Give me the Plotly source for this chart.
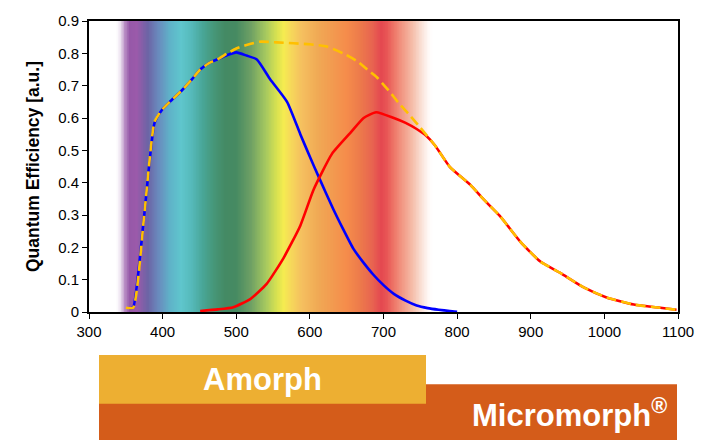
import numpy as np
import plotly.graph_objects as go

# ---- data ----
blue_nm = [355, 360, 375, 389, 399, 412, 426, 440, 451, 463, 474, 488, 500, 514, 528, 546, 569, 587, 600, 612,
           632, 645, 659, 672, 686, 700, 714, 730, 745, 760, 775, 790, 800]
blue_qe = [0.011, 0.014, 0.30, 0.585, 0.625, 0.655, 0.685, 0.72, 0.75, 0.77, 0.781, 0.795, 0.803, 0.793, 0.781,
           0.72, 0.65, 0.55, 0.48, 0.418, 0.317, 0.257, 0.196, 0.155, 0.116, 0.083, 0.056, 0.035, 0.02, 0.012,
           0.007, 0.003, 0.001]

red_nm = [451, 475, 496, 519, 541, 564, 587, 605, 630, 655, 673, 690, 714, 730, 745, 758, 770, 790, 818, 836,
          858, 886, 913, 940, 972, 1003, 1040, 1076, 1098]
red_qe = [0.003, 0.008, 0.015, 0.04, 0.086, 0.166, 0.267, 0.378, 0.489, 0.554, 0.60, 0.618, 0.60, 0.585, 0.566,
          0.545, 0.515, 0.449, 0.393, 0.348, 0.297, 0.217, 0.156, 0.121, 0.076, 0.045, 0.023, 0.013, 0.007]

sum_nm = [350, 360, 375, 389, 399, 412, 426, 440, 451, 463, 474, 488, 500, 514, 532, 555, 578, 600, 623, 645,
          664, 678, 691, 707, 723, 737, 750, 770, 790, 818, 836, 858, 886, 913, 940, 972, 1003, 1040, 1076, 1098]
sum_qe = [0.013, 0.013, 0.30, 0.588, 0.625, 0.655, 0.685, 0.72, 0.75, 0.77, 0.781, 0.80, 0.815, 0.826, 0.836,
          0.834, 0.831, 0.828, 0.821, 0.80, 0.776, 0.75, 0.726, 0.685, 0.64, 0.605, 0.57, 0.515, 0.449, 0.393,
          0.348, 0.297, 0.217, 0.156, 0.121, 0.076, 0.045, 0.023, 0.013, 0.007]

# visible spectrum backdrop (wavelength -> colour)
spec_nm = [335, 342, 348, 355, 365, 380, 395, 410, 425, 440, 455, 470, 485, 500, 520, 540, 555, 565, 575, 590,
           610, 630, 650, 670, 685, 697, 705, 715, 727, 740, 752, 762, 770]
spec_rgba = ["rgba(255,255,255,0)", "rgba(200,170,210,0.3)", "rgba(165,110,180,0.75)", "rgba(150,88,168,1)",
             "rgba(155,90,170,1)", "rgba(108,100,165,1)", "rgba(105,140,190,1)", "rgba(95,178,200,1)",
             "rgba(95,198,205,1)", "rgba(85,185,185,1)", "rgba(72,165,150,1)", "rgba(70,150,120,1)",
             "rgba(68,138,100,1)", "rgba(70,138,98,1)", "rgba(110,160,100,1)", "rgba(165,200,95,1)",
             "rgba(215,225,80,1)", "rgba(245,235,80,1)", "rgba(246,215,90,1)", "rgba(245,190,95,1)",
             "rgba(240,170,85,1)", "rgba(242,155,80,1)", "rgba(245,140,75,1)", "rgba(236,120,75,1)",
             "rgba(232,100,80,1)", "rgba(228,72,80,1)", "rgba(232,85,85,1)", "rgba(238,120,105,1)",
             "rgba(242,155,135,1)", "rgba(245,190,170,1)", "rgba(250,225,215,1)", "rgba(255,250,248,1)",
             "rgba(255,255,255,0)"]

x_ticks = [300, 400, 500, 600, 700, 800, 900, 1000, 1100]
y_ticks = [0, 0.1, 0.2, 0.3, 0.4, 0.5, 0.6, 0.7, 0.8, 0.9]
y_labels = ["0", "0.1", "0.2", "0.3", "0.4", "0.5", "0.6", "0.7", "0.8", "0.9"]

label_top = "Amorph"
label_bottom = "Micromorph<sup>®</sup>"

# ---- figure ----
lo, hi = spec_nm[0], spec_nm[-1]
edges = np.arange(lo, hi + 1, 1)
centers = (edges[:-1] + edges[1:]) / 2
cscale = [[(w - lo) / (hi - lo), c] for w, c in zip(spec_nm, spec_rgba)]

fig = go.Figure()
fig.add_trace(go.Heatmap(x=edges, y=[0, 0.9], z=[centers], colorscale=cscale, zmin=lo, zmax=hi,
                         showscale=False, hoverinfo="skip"))
fig.add_trace(go.Scatter(x=blue_nm, y=blue_qe, mode="lines", line=dict(color="#0000FF", width=2.6,
                         shape="spline", smoothing=0.5), hoverinfo="skip"))
fig.add_trace(go.Scatter(x=red_nm, y=red_qe, mode="lines", line=dict(color="#FF0000", width=2.6,
                         shape="spline", smoothing=0.5), hoverinfo="skip"))
fig.add_trace(go.Scatter(x=sum_nm, y=sum_qe, mode="lines", line=dict(color="#FFC000", width=2.6,
                         dash="10px,5px", shape="spline", smoothing=0.5), hoverinfo="skip"))

W, H = 707, 443
L, R, T, B = 89, 29, 14, 131
pw, ph = W - L - R, H - T - B


def px(xp):
    return (xp - L) / pw


def py(yp):
    return (H - B - yp) / ph


fig.update_layout(
    width=W, height=H, margin=dict(l=L, r=R, t=T, b=B),
    paper_bgcolor="white", plot_bgcolor="white", showlegend=False,
    font=dict(family="Liberation Sans, Arial, sans-serif", color="black"),
    xaxis=dict(range=[300, 1100], tickvals=x_ticks, ticks="outside", ticklen=5, tickwidth=1,
               tickcolor="black", showline=True, linewidth=2, linecolor="black", mirror=True,
               showgrid=False, zeroline=False, tickfont=dict(size=15)),
    yaxis=dict(range=[0, 0.9], tickvals=y_ticks, ticktext=y_labels, ticks="outside", ticklen=5,
               tickwidth=1, tickcolor="black", showline=True, linewidth=2, linecolor="black",
               mirror=True, showgrid=False, zeroline=False, tickfont=dict(size=15),
               title=dict(text="<b>Quantum Efficiency [a.u.]</b>", font=dict(size=17.5), standoff=14)),
    shapes=[
        dict(type="rect", xref="paper", yref="paper", x0=px(99), x1=px(677), y0=py(443), y1=py(386),
             fillcolor="#D45C1A", line=dict(width=0), layer="above"),
        dict(type="rect", xref="paper", yref="paper", x0=px(99), x1=px(426), y0=py(406), y1=py(356),
             fillcolor="#EDAF32", line=dict(width=0), layer="above"),
    ],
    annotations=[
        dict(text="<b>" + label_top + "</b>", xref="paper", yref="paper", x=px(262), y=py(381),
             xanchor="center", yanchor="middle", showarrow=False, font=dict(size=31, color="white")),
        dict(text="<b>" + label_bottom + "</b>", xref="paper", yref="paper", x=px(669), y=py(415),
             xanchor="right", yanchor="middle", showarrow=False, font=dict(size=31, color="white")),
    ],
)

fig.write_html("out.html")
